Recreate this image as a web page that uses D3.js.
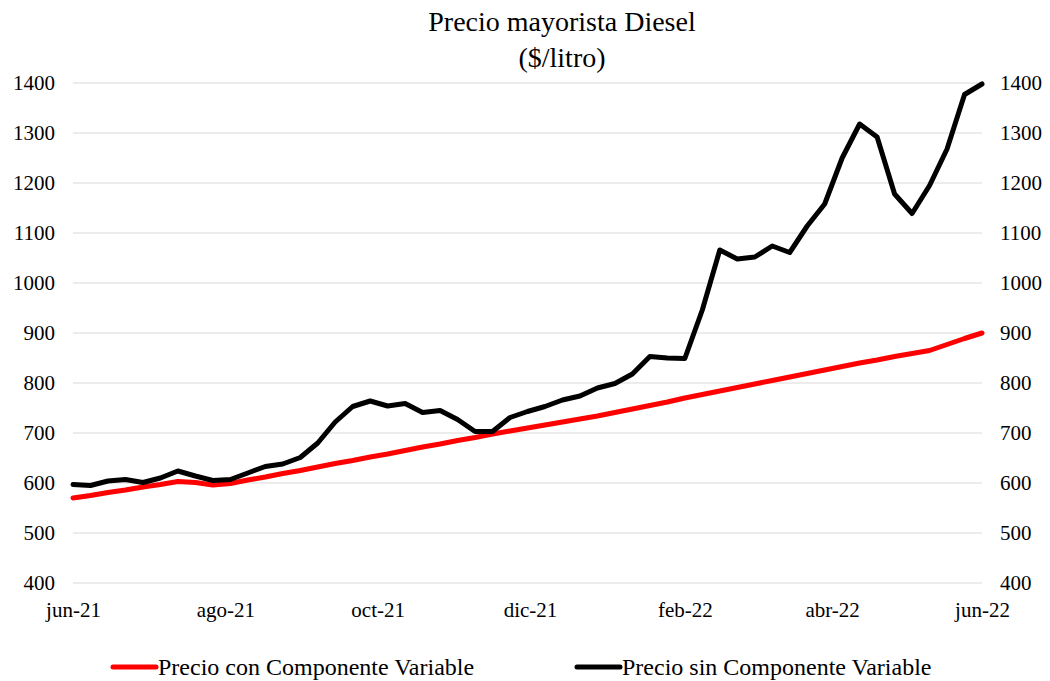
<!DOCTYPE html>
<html>
<head>
<meta charset="utf-8">
<script src="https://cdn.jsdelivr.net/npm/d3@7"></script>
<style>
  body { margin: 0; background: #fff; }
  svg { font-family: "Liberation Serif", "Times New Roman", serif; }
</style>
</head>
<body>
<svg id="chart" width="1050" height="681"></svg>
<script>
// weekly series, jun-21 .. jun-22
const startDate = new Date(2021, 5, 1);
const conComponente = [570, 575, 581, 586, 592, 597, 603, 601, 596, 599,
  606, 612, 619, 625, 632, 639, 645, 652, 658, 665,
  672, 678, 685, 691, 698, 704, 710, 716, 722, 728,
  734, 741, 748, 755, 762, 770, 777, 784, 791, 798,
  805, 812, 819, 826, 833, 840, 846, 853, 859, 865,
  877, 889, 900];
const sinComponente = [597, 595, 604, 607, 601, 610, 624, 614, 605, 607,
  620, 633, 638, 651, 680, 722, 753, 764, 754, 759,
  741, 745, 727, 703, 703, 731, 743, 753, 766, 774,
  790, 799, 818, 853, 850, 849, 946, 1066, 1048, 1052,
  1074, 1061, 1114, 1158, 1250, 1318, 1292, 1178, 1139, 1195,
  1268, 1377, 1398];
const monthTicks = ["jun-21", "ago-21", "oct-21", "dic-21", "feb-22", "abr-22", "jun-22"];
const yTicks = [400, 500, 600, 700, 800, 900, 1000, 1100, 1200, 1300, 1400];

const dates = conComponente.map((d, i) => d3.timeDay.offset(startDate, i * 7));
const tickDates = monthTicks.map((d, i) => d3.timeMonth.offset(startDate, i * 2));

const svg = d3.select("#chart");
const margin = {left: 73, right: 68, top: 83, bottom: 98};
const width = 1050 - margin.left - margin.right;
const height = 681 - margin.top - margin.bottom;

const x = d3.scaleTime()
  .domain([dates[0], dates[dates.length - 1]])
  .range([margin.left, margin.left + width])
  .clamp(true);
const y = d3.scaleLinear()
  .domain([400, 1400])
  .range([margin.top + height, margin.top]);

// gridlines
svg.append("g")
  .selectAll("line")
  .data(yTicks)
  .enter().append("line")
  .attr("x1", margin.left)
  .attr("x2", margin.left + width)
  .attr("y1", d => y(d))
  .attr("y2", d => y(d))
  .attr("stroke", "#d9d9d9")
  .attr("stroke-width", 1.2);

// left axis
const yAxisL = svg.append("g")
  .attr("transform", "translate(" + margin.left + ",0)")
  .call(d3.axisLeft(y).tickValues(yTicks).tickFormat(d3.format("d")).tickSize(0).tickPadding(18));
yAxisL.select(".domain").remove();

// right axis
const yAxisR = svg.append("g")
  .attr("transform", "translate(" + (margin.left + width) + ",0)")
  .call(d3.axisRight(y).tickValues(yTicks).tickFormat(d3.format("d")).tickSize(0).tickPadding(18));
yAxisR.select(".domain").remove();

// x axis
const xAxis = svg.append("g")
  .attr("transform", "translate(0," + (margin.top + height) + ")")
  .call(d3.axisBottom(x).tickValues(tickDates).tickSize(0).tickPadding(19)
    .tickFormat((d, i) => monthTicks[i]));
xAxis.select(".domain").remove();

svg.selectAll(".tick text")
  .attr("font-family", "Liberation Serif, Times New Roman, serif")
  .attr("font-size", "21px")
  .attr("fill", "#000");

// lines
const lineGen = d3.line()
  .x((d, i) => x(dates[i]))
  .y(d => y(d));

svg.append("path")
  .datum(conComponente)
  .attr("d", lineGen)
  .attr("fill", "none")
  .attr("stroke", "#ff0000")
  .attr("stroke-width", 5)
  .attr("stroke-linejoin", "round")
  .attr("stroke-linecap", "round");

svg.append("path")
  .datum(sinComponente)
  .attr("d", lineGen)
  .attr("fill", "none")
  .attr("stroke", "#000000")
  .attr("stroke-width", 5)
  .attr("stroke-linejoin", "round")
  .attr("stroke-linecap", "round");

// title
svg.append("text")
  .attr("x", 562)
  .attr("y", 31)
  .attr("text-anchor", "middle")
  .style("font-size", "28px")
  .text("Precio mayorista Diesel");
svg.append("text")
  .attr("x", 562)
  .attr("y", 67)
  .attr("text-anchor", "middle")
  .style("font-size", "28px")
  .text("($/litro)");

// legend
const legendItems = [
  {key: "Precio con Componente Variable", color: "#ff0000", x: 113},
  {key: "Precio sin Componente Variable", color: "#000000", x: 577}
];
const legend = svg.append("g").selectAll("g")
  .data(legendItems)
  .enter().append("g")
  .attr("transform", d => "translate(" + d.x + ",667)");
legend.append("line")
  .attr("x1", 0).attr("x2", 43)
  .attr("y1", 0).attr("y2", 0)
  .attr("stroke", d => d.color)
  .attr("stroke-width", 5)
  .attr("stroke-linecap", "round");
legend.append("text")
  .attr("x", 45)
  .attr("y", 8)
  .style("font-size", "24px")
  .text(d => d.key);
</script>
</body>
</html>
